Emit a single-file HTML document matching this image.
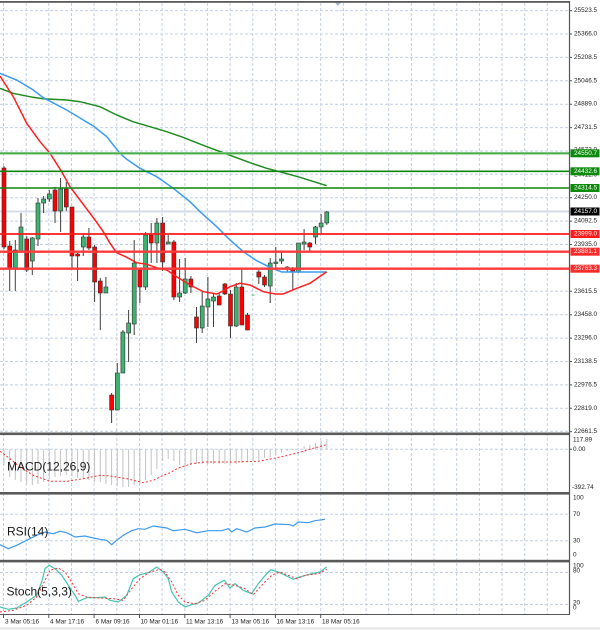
<!DOCTYPE html>
<html><head><meta charset="utf-8"><style>
html,body{margin:0;padding:0;background:#fff;}
svg{display:block;}
text{font-family:"Liberation Sans",sans-serif;}
</style></head><body>
<svg width="600" height="630" viewBox="0 0 600 630" xmlns="http://www.w3.org/2000/svg">
<rect width="600" height="630" fill="#fff"/>
<rect x="0" y="627" width="600" height="3" fill="#ececec"/>
<!-- vertical grid -->
<g stroke="#c4d0e2" stroke-width="1" stroke-dasharray="3 2" fill="none">
<path d="M3.5 3V614M26.2 3V614M48.8 3V614M71.5 3V614M94.1 3V614M116.8 3V614M139.5 3V614M162.1 3V614M184.8 3V614M207.4 3V614M230.1 3V614M252.8 3V614M275.4 3V614M298.1 3V614M320.7 3V614M343.4 3V614M366.1 3V614M388.7 3V614M411.4 3V614M434 3V614M456.7 3V614M479.4 3V614M502 3V614M524.7 3V614M547.3 3V614"/>
<path d="M0 10.6H569M0 34H569M0 57.4H569M0 80.8H569M0 104.2H569M0 127.6H569M0 151H569M0 174.3H569M0 197.7H569M0 221.1H569M0 244.5H569M0 267.9H569M0 291.3H569M0 314.7H569M0 338.1H569M0 361.5H569M0 384.9H569M0 408.3H569M0 431.3H569"/>
<path d="M0 449.3H569M0 514.3H569M0 540.7H569M0 572.5H569M0 604.5H569"/>
</g>
<!-- current price line -->
<path d="M0 211.5H569" stroke="#d6deea" stroke-width="2"/>
<!-- top marker -->
<path d="M335 2.5L341 2.5L338 6Z" fill="#a9b6cc"/>
<!-- MACD histogram -->
<path stroke="#c2c2c2" stroke-width="1" fill="none" d="M4 449.3V465M9.7 449.3V477M15.3 449.3V480M21 449.3V482M26.7 449.3V484M32.3 449.3V485M38 449.3V484M43.6 449.3V482M49.3 449.3V479M55 449.3V477M60.6 449.3V476M66.3 449.3V475M72 449.3V476M77.6 449.3V478M83.3 449.3V479M88.9 449.3V480M94.6 449.3V482M100.3 449.3V482M105.9 449.3V484M111.6 449.3V485M117.3 449.3V486M122.9 449.3V487M128.6 449.3V487M134.2 449.3V485M139.9 449.3V484M145.6 449.3V480M151.2 449.3V475M156.9 449.3V469M162.6 449.3V461M168.2 449.3V459M173.9 449.3V461M179.6 449.3V465M185.2 449.3V467M190.9 449.3V465M196.5 449.3V464M202.2 449.3V464M207.9 449.3V464M213.5 449.3V464M219.2 449.3V464M224.9 449.3V464M230.5 449.3V464M236.2 449.3V464M241.8 449.3V463M247.5 449.3V462M253.2 449.3V461M258.8 449.3V460M264.5 449.3V458M270.2 449.3V457M275.8 449.3V455M281.5 449.3V453M287.2 449.3V451M292.8 449.3V450M304.1 449.3V446M309.8 449.3V445M315.5 449.3V443M321.1 449.3V441M326.8 449.3V439"/>
<polyline fill="none" stroke="#ff3030" stroke-width="1" stroke-dasharray="2 2" points="0,451.3 10,458.7 20,467 33.3,475.3 50,481.3 66.7,481.3 83.3,478.7 100,475.3 110,476 126.7,478.7 143.3,482.7 153.3,480.3 163.3,475.3 170,472.7 178.3,468 191.7,463.7 205,462 231.7,462 258.3,461.3 271.7,458.7 285,456 298.3,452.7 311.7,448.7 326.7,444.7"/>
<!-- RSI -->
<polyline fill="none" stroke="#3d9bf0" stroke-width="1.2" points="0,544.7 8.3,548.7 16.7,545.3 26.7,540.3 36.7,535.3 45,532 53.3,533.7 60,531.3 66.7,532.7 75,537 85,536 93.3,538 100,539.3 106.7,540.3 111.7,544.7 116.7,540.3 123.3,535.3 131.7,530.7 138.3,528.7 145,529.3 153.3,526 160,527 166.7,528 173.3,530.7 185,529.3 196.7,532.7 208.3,530.7 221.7,530.7 228.3,528.7 231.7,532 236.7,528.7 246.7,532 255,528 265,527 275,524 290,524.7 293.3,526 298.3,522 308.3,522.7 315,520.7 325,519.3"/>
<!-- Stoch -->
<polyline fill="none" stroke="#45c4b2" stroke-width="1.2" points="0,607 8.3,609.3 16.7,608 26.7,602 36.7,595.3 41.7,582 45,568.7 49.3,565.3 55,568.7 61.7,575.3 68.3,585.3 75,595.3 78.3,601.3 86.7,597.7 96.7,597.7 105,597 110,600.3 118.3,602 126.7,595.3 133.3,578.7 140,574.7 148.3,572.7 156.7,567 163.3,572 168.3,578.7 171.7,592 178.3,602 185,607 191.7,604.7 198.3,603 208.3,595.3 215,585.3 224.3,580.3 230,588 235,583.7 243.3,590.3 251.7,593.7 258.3,583.7 266.7,573.7 271,569.7 280,572.7 293.3,579.3 298.3,577.3 311.7,573.7 320,572 326.7,567"/>
<polyline fill="none" stroke="#ff3030" stroke-width="1" stroke-dasharray="2 2" points="0,612 13.3,610.3 26.7,605.3 36.7,597 45,580.3 50,570.3 58.3,568 65,572 71.7,582 78.3,593.7 86.7,597 100,598 113.3,598.7 123.3,600.3 131.7,588.7 140,578.7 150,572 160,569.3 165,572 171.7,582 178.3,595.3 185,602 195,603.7 205,600.3 215,591.3 225,583.7 235,585.3 245,588.7 253.3,594.7 261.7,585.3 271.7,575.3 280,572 290,576 296.7,578.7 305,575.3 318.3,573.7 326.7,569.3"/>
<!-- candles wicks -->
<path stroke="#404040" stroke-width="1" fill="none" d="M4 166V249M9.7 241V291M15.3 240V291M21 213V253M26.7 236V272M32.3 237V275M38 198V246M43.6 196V213M49.3 190V202M55 187V223M60.6 178V232M66.3 182V211M72 207V268M77.6 253V281M83.3 235V256M88.9 228V250M94.6 245V302M100.3 278V330M105.9 277V293M111.6 393V423M117.3 363V410M122.9 330V373M128.6 310V362M134.2 240V335M139.9 270V303M145.6 232V290M151.2 223V263M156.9 218V263M162.6 217V271M168.2 235V244M173.9 240V300M179.6 259V302M185.2 258V294M190.9 276V293M196.5 307V343M202.2 292V333M207.9 277V327M213.5 294V327M219.2 293V305M224.9 283V295M230.5 290V338M236.2 283V327M241.8 269V325M247.5 313V330M258.8 270V284M264.5 275V287M270.2 258V303M275.8 247V268M281.5 252V264M287.2 266V272M292.8 267V290M298.5 243V273M304.1 229V250M309.8 242V252M315.5 226V244M321.1 214V233M326.8 211V225"/>
<g fill="#3cb371" stroke="#2f2f2f" stroke-width="0.6">
<rect x="13.3" y="250" width="4" height="19"/><rect x="19" y="227" width="4" height="24"/><rect x="30.3" y="238" width="4" height="23"/><rect x="36" y="203" width="4" height="36"/><rect x="41.6" y="199" width="4" height="4"/><rect x="47.3" y="194" width="4" height="5"/><rect x="58.6" y="189" width="4" height="22"/><rect x="81.3" y="237" width="4" height="10"/><rect x="103.9" y="287" width="4" height="6"/><rect x="115.3" y="373" width="4" height="37"/><rect x="120.9" y="332" width="4" height="41"/><rect x="126.6" y="323" width="4" height="10"/><rect x="132.2" y="263" width="4" height="61"/><rect x="143.6" y="235" width="4" height="52"/><rect x="154.9" y="223" width="4" height="20"/><rect x="166.2" y="242" width="4" height="2"/><rect x="177.6" y="293" width="4" height="4"/><rect x="183.2" y="279" width="4" height="14"/><rect x="200.2" y="306" width="4" height="22"/><rect x="205.9" y="299" width="4" height="8"/><rect x="211.5" y="297" width="4" height="4"/><rect x="234.2" y="287" width="4" height="39"/><rect x="268.2" y="263" width="4" height="23"/><rect x="273.8" y="262" width="4" height="1.5"/><rect x="279.5" y="259" width="4" height="2"/><rect x="296.5" y="243" width="4" height="29"/><rect x="302.1" y="242" width="4" height="2"/><rect x="313.5" y="227" width="4" height="10"/><rect x="319.1" y="223" width="4" height="4"/><rect x="324.8" y="212" width="4" height="11"/>
</g>
<path d="M251.5 295H254.5" stroke="#3cd060" stroke-width="1"/>
<g fill="#ff0000" stroke="#2f2f2f" stroke-width="0.6">
<rect x="2" y="168" width="4" height="79"/><rect x="7.7" y="246" width="4" height="23"/><rect x="24.7" y="239" width="4" height="31"/><rect x="53" y="190" width="4" height="21"/><rect x="64.3" y="189" width="4" height="18"/><rect x="70" y="207" width="4" height="49"/><rect x="75.6" y="254" width="4" height="2"/><rect x="86.9" y="237" width="4" height="11"/><rect x="92.6" y="247" width="4" height="35"/><rect x="98.3" y="281" width="4" height="12"/><rect x="109.6" y="395" width="4" height="15"/><rect x="137.9" y="270" width="4" height="17"/><rect x="149.2" y="235" width="4" height="8"/><rect x="160.6" y="223" width="4" height="39"/><rect x="171.9" y="242" width="4" height="55"/><rect x="188.9" y="279" width="4" height="8"/><rect x="194.5" y="317" width="4" height="11"/><rect x="217.2" y="296" width="4" height="9"/><rect x="222.9" y="284" width="4" height="10"/><rect x="228.5" y="294" width="4" height="32"/><rect x="239.8" y="287" width="4" height="38"/><rect x="245.5" y="315" width="4" height="15"/><rect x="256.8" y="272" width="4" height="5"/><rect x="262.5" y="277" width="4" height="8"/><rect x="290.8" y="268" width="4" height="4"/><rect x="307.8" y="243" width="4" height="4"/>
</g>
<rect x="285.2" y="267" width="4" height="2" fill="#999" stroke="#555" stroke-width="0.6"/>
<!-- moving averages -->
<polyline fill="none" stroke="#1e8c1e" stroke-width="1.5" points="0,88.3 13,93.3 33,97.3 43,98.7 66.7,100 80,101.7 100,106.7 116.7,115 133,121.7 150,126.7 166.7,131.7 183,137.3 206.7,146.7 226.7,154 250,162.7 266.7,168.3 283.3,172.7 300,177.3 326.7,185.7"/>
<polyline fill="none" stroke="#3a9cf0" stroke-width="1.5" points="0,73.3 16.7,80 33.3,90 43.3,97.7 66.7,110 83.3,120 93.3,126 106.7,136.7 120,153.3 126.7,159.3 140,168.3 156.7,176.7 173.3,188.3 190,201.7 200,211.7 216.7,226.7 230,240 243.3,251.7 256.7,260.7 270,267.3 281.7,272 326.7,272"/>
<polyline fill="none" stroke="#ff2020" stroke-width="1.5" points="0,76 13.3,96.7 26.7,123.3 40,141.7 50,153.3 61.7,171.7 70,186.7 80,200 90,213.3 95,220 103.3,231.7 110,243.3 116.7,252.7 126.7,257.3 136.7,262.7 146.7,264.3 156.7,267.7 166.7,270 176.7,276.7 190,285 203.3,291.7 216.7,294 221.7,291.7 230,286.7 240,283.3 250,285 263.3,291.7 275,294 283.3,294 296.7,288.3 310,283.3 326.7,271.7"/>
<!-- horizontal levels -->
<path d="M0 153.3H569" stroke="#86cc86" stroke-width="2.6"/>
<path d="M0 153.3H569" stroke="#3c9f3c" stroke-width="0.8"/>
<path d="M0 171.3H569M0 188H569" stroke="#0f870f" stroke-width="1.6"/>
<path d="M0 234H569" stroke="#ff1a1a" stroke-width="1.7"/>
<path d="M0 251.7H569M0 268.7H569" stroke="#ff3b3b" stroke-width="2.4"/>
<!-- frames -->
<rect x="0" y="1" width="569" height="1.8" fill="#5a5a5a"/>
<rect x="0" y="432.5" width="569" height="2.6" fill="#5a5a5a"/>
<rect x="0" y="492" width="569" height="2.6" fill="#5a5a5a"/>
<rect x="0" y="559.8" width="569" height="2.6" fill="#5a5a5a"/>
<path d="M0 614.5H569" stroke="#555" stroke-width="1"/>
<path d="M569.5 1V615" stroke="#555" stroke-width="1.2"/>
<!-- axis ticks -->
<path stroke="#555" stroke-width="1" d="M569 10.6H572M569 34H572M569 57.4H572M569 80.8H572M569 104.2H572M569 127.6H572M569 197.7H572M569 221.1H572M569 244.5H572M569 291.3H572M569 314.7H572M569 338.1H572M569 361.5H572M569 384.9H572M569 408.3H572M569 431.6H572M569 449.3H572M3.5 614V618M48.8 614V618M94.1 614V618M139.5 614V618M184.8 614V618M230.1 614V618M275.4 614V618M320.7 614V618"/>
<!-- price labels -->
<g font-size="6.4" fill="#222" dominant-baseline="central">
<text x="574" y="10.6">25523.5</text>
<text x="574" y="34">25366.0</text>
<text x="574" y="57.4">25208.5</text>
<text x="574" y="80.8">25046.5</text>
<text x="574" y="104.2">24889.0</text>
<text x="574" y="127.6">24731.5</text>
<text x="574" y="150">24573.0</text>
<text x="574" y="175">24412.0</text>
<text x="574" y="197.7">24250.0</text>
<text x="574" y="221.1">24092.5</text>
<text x="574" y="244.5">23935.0</text>
<text x="574" y="291.3">23615.5</text>
<text x="574" y="314.7">23458.0</text>
<text x="574" y="338.1">23296.0</text>
<text x="574" y="361.5">23138.5</text>
<text x="574" y="384.9">22976.5</text>
<text x="574" y="408.3">22819.0</text>
<text x="574" y="431.6">22661.5</text>
<text x="573" y="440">117.89</text>
<text x="573" y="449.5">0.00</text>
<text x="572" y="487.5">-392.74</text>
<text x="573" y="498">100</text>
<text x="573" y="514.5">70</text>
<text x="573" y="541">30</text>
<text x="573" y="555">0</text>
<text x="573" y="566">100</text>
<text x="573" y="571">80</text>
<text x="573" y="603">20</text>
<text x="573" y="608">0</text>
</g>
<!-- level boxes -->
<rect x="570.5" y="149.3" width="29" height="8" fill="#0c8a0c"/>
<rect x="570.5" y="167.3" width="29" height="8" fill="#0c8a0c"/>
<rect x="570.5" y="184" width="29" height="8" fill="#0c8a0c"/>
<rect x="570.5" y="207.5" width="29" height="8" fill="#000"/>
<rect x="570.5" y="230" width="29" height="8" fill="#ff1a1a"/>
<rect x="570.5" y="247.7" width="29" height="8" fill="#ff2a2a"/>
<rect x="570.5" y="264.7" width="29" height="8" fill="#ff2a2a"/>
<g font-size="6.4" fill="#fff" dominant-baseline="central">
<text x="574" y="153.3">24550.7</text>
<text x="574" y="171.3">24432.6</text>
<text x="574" y="188">24314.5</text>
<text x="574" y="211.5">24157.0</text>
<text x="574" y="234">23999.0</text>
<text x="574" y="251.7">23881.1</text>
<text x="574" y="268.7">23763.3</text>
</g>
<!-- indicator names -->
<g font-size="12" fill="#1a1a1a">
<text x="7" y="470.6">MACD(12,26,9)</text>
<text x="7" y="535.5">RSI(14)</text>
<text x="6.5" y="595.6">Stoch(5,3,3)</text>
</g>
<!-- time labels -->
<g font-size="6.4" fill="#222">
<text x="5" y="623.5">3 Mar 05:16</text>
<text x="50" y="623.5">4 Mar 17:16</text>
<text x="95.5" y="623.5">6 Mar 09:16</text>
<text x="140.5" y="623.5">10 Mar 01:16</text>
<text x="186" y="623.5">11 Mar 13:16</text>
<text x="231.5" y="623.5">13 Mar 05:16</text>
<text x="276.5" y="623.5">16 Mar 13:16</text>
<text x="322" y="623.5">18 Mar 05:16</text>
</g>
</svg>
</body></html>
